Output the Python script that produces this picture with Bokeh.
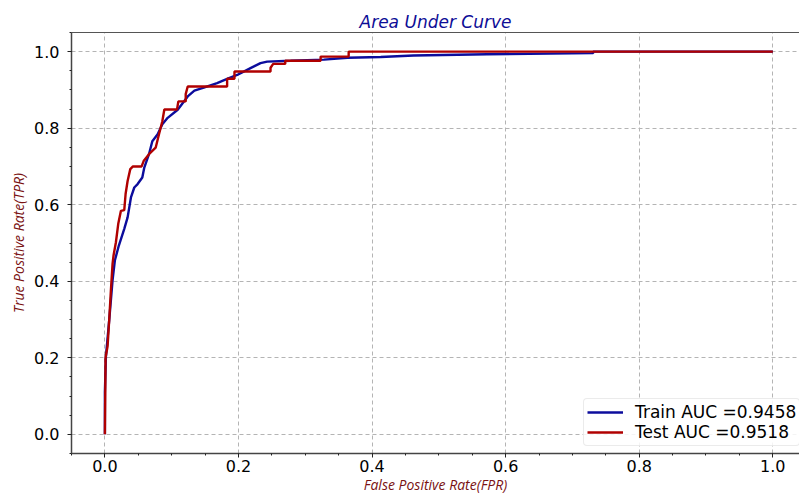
from bokeh.plotting import figure
from bokeh.models import (Range1d, SingleIntervalTicker, FixedTicker, LinearAxis, Legend, LegendItem,
                          NumeralTickFormatter, ColumnDataSource)
from bokeh.embed import file_html
from bokeh.resources import INLINE

# ---- data ----
train_fpr = [0.0, 0.0, 0.0015, 0.0065, 0.0115, 0.015, 0.021, 0.029, 0.034, 0.039, 0.044,
             0.049, 0.056, 0.059, 0.066, 0.071, 0.079, 0.086, 0.094, 0.109, 0.124, 0.134,
             0.148, 0.168, 0.183, 0.198, 0.218, 0.233, 0.243, 0.278, 0.328, 0.363, 0.413,
             0.462, 0.572, 0.731, 0.731, 1.0]
train_tpr = [0.0, 0.11, 0.203, 0.299, 0.403, 0.455, 0.494, 0.537, 0.567, 0.619, 0.645,
             0.654, 0.671, 0.697, 0.732, 0.766, 0.784, 0.81, 0.827, 0.848, 0.883, 0.898,
             0.906, 0.918, 0.929, 0.939, 0.957, 0.97, 0.974, 0.976, 0.979, 0.984, 0.986,
             0.99, 0.993, 0.996, 1.0, 1.0]

test_fpr = [0.0, 0.001, 0.004, 0.0065, 0.009, 0.0115, 0.013, 0.0165, 0.02, 0.024, 0.029,
            0.031, 0.034, 0.038, 0.042, 0.055, 0.058, 0.066, 0.076, 0.081, 0.086, 0.089,
            0.108, 0.11, 0.121, 0.121, 0.124, 0.183, 0.183, 0.194, 0.194, 0.248, 0.248,
            0.252, 0.27, 0.27, 0.323, 0.323, 0.365, 0.365, 1.0]
test_tpr = [0.0, 0.20, 0.23, 0.30, 0.377, 0.446, 0.468, 0.502, 0.55, 0.584, 0.586,
            0.628, 0.662, 0.693, 0.70, 0.70, 0.714, 0.732, 0.749, 0.784, 0.818, 0.849,
            0.849, 0.870, 0.870, 0.889, 0.909, 0.909, 0.929, 0.929, 0.948, 0.948, 0.958,
            0.968, 0.968, 0.976, 0.976, 0.987, 0.987, 1.0, 1.0]

train_auc = 0.9458
test_auc = 0.9518

title_text = "Area Under Curve"
x_label = "False Positive Rate(FPR)"
y_label = "True Positive Rate(TPR)"

TRAIN_COLOR = "#0c0c9c"
TEST_COLOR = "#b00000"
LABEL_COLOR = "#7a1212"

p = figure(width=799, height=496, output_backend="svg", toolbar_location=None,
           x_range=Range1d(-0.05, 1.04), y_range=Range1d(-0.05, 1.05),
           min_border_left=71, min_border_right=0, min_border_top=32, min_border_bottom=43)

p.title.text = title_text
p.title.align = "center"
p.title.text_font = "DejaVu Sans"
p.title.text_font_style = "italic"
p.title.text_font_size = "17px"
p.title.text_color = "#0d0d96"
p.title.standoff = 2

p.outline_line_color = None
p.background_fill_color = "white"
p.border_fill_color = "white"

for ax, lab, fs, lstand, astand in ((p.xaxis[0], x_label, "14px", 2, 0),
                                    (p.yaxis[0], y_label, "14px", 8, 3)):
    ax.ticker = SingleIntervalTicker(interval=0.2, num_minor_ticks=4)
    ax.formatter = NumeralTickFormatter(format="0.0")
    ax.axis_label = lab
    ax.axis_label_text_font = "Open Sans"
    ax.axis_label_text_font_style = "italic"
    ax.axis_label_text_font_size = fs
    ax.axis_label_text_color = LABEL_COLOR
    ax.axis_label_standoff = astand
    ax.major_label_text_font = "DejaVu Sans"
    ax.major_label_text_font_size = "16px"
    ax.major_label_text_color = "black"
    ax.major_label_standoff = lstand
    ax.axis_line_color = "#444444"
    ax.axis_line_width = 1.5
    ax.major_tick_line_color = "#222222"
    ax.major_tick_in = 0
    ax.major_tick_out = 4
    ax.minor_tick_line_color = "#222222"
    ax.minor_tick_in = 0
    ax.minor_tick_out = 2

# top frame line (axis with no ticks/labels)
top_axis = LinearAxis(ticker=FixedTicker(ticks=[]), major_tick_line_color=None,
                      minor_tick_line_color=None, axis_line_color="#555555", axis_line_width=1)
p.add_layout(top_axis, "above")

p.xgrid.ticker = SingleIntervalTicker(interval=0.2)
p.ygrid.ticker = SingleIntervalTicker(interval=0.2)
for g in (p.xgrid[0], p.ygrid[0]):
    g.grid_line_color = "#b4b4b4"
    g.grid_line_dash = "4 3"
    g.grid_line_width = 1

src_train = ColumnDataSource(dict(x=train_fpr, y=train_tpr))
src_test = ColumnDataSource(dict(x=test_fpr, y=test_tpr))
r_train = p.line("x", "y", source=src_train, line_color=TRAIN_COLOR, line_width=2.4)
r_test = p.line("x", "y", source=src_test, line_color=TEST_COLOR, line_width=2.4)

legend = Legend(items=[LegendItem(label="Train AUC =%.4f" % train_auc, renderers=[r_train]),
                       LegendItem(label="Test AUC =%.4f" % test_auc, renderers=[r_test])],
                location=(512, 7))
legend.label_text_font = "DejaVu Sans"
legend.label_text_font_size = "17px"
legend.label_text_color = "black"
legend.glyph_width = 36
legend.glyph_height = 20
legend.label_height = 20
legend.label_standoff = 12
legend.spacing = 0
legend.padding = 3
legend.margin = 0
legend.border_line_color = "#d8d8d8"
legend.border_line_width = 1
legend.border_radius = 4
legend.background_fill_alpha = 0.85
p.add_layout(legend, "center")

open("out.html", "w").write(file_html(p, INLINE))
